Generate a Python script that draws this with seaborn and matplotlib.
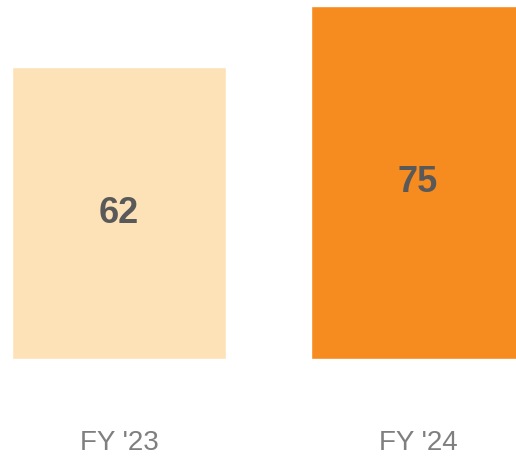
import matplotlib.pyplot as plt
import pandas as pd
import seaborn as sns

# data
categories = ["FY '23", "FY '24"]
values = [62, 75]
bar_colors = ["#FDE2B8", "#F68B1F"]


def main() -> None:
    sns.set_theme(style="white")
    plt.rcParams["font.family"] = ["Liberation Sans", "DejaVu Sans"]

    df = pd.DataFrame({"period": categories, "value": values})

    fig = plt.figure(figsize=(5.16, 4.59), dpi=100)
    ax = fig.add_axes([0.0, 100 / 459, 1.0, 353 / 459])

    sns.barplot(
        data=df,
        x="period",
        y="value",
        hue="period",
        palette=bar_colors,
        width=0.716,
        legend=False,
        saturation=1,
        ax=ax,
    )

    # value labels in the middle of each bar
    for i, v in enumerate(values):
        ax.text(
            i, v / 2, f"{v}",
            ha="center", va="center",
            fontsize=26, fontweight="bold", color="#595959",
        )

    ax.set_xlim(-0.398, 1.328)
    ax.set_ylim(0, 75)
    ax.set_xlabel("")
    ax.set_ylabel("")
    ax.set_yticks([])
    ax.tick_params(axis="x", length=0, pad=51, labelsize=20, labelcolor="#7F7F7F")
    sns.despine(ax=ax, left=True, bottom=True)

    fig.savefig("out.png", dpi=100)
    plt.close(fig)


if __name__ == "__main__":
    main()
